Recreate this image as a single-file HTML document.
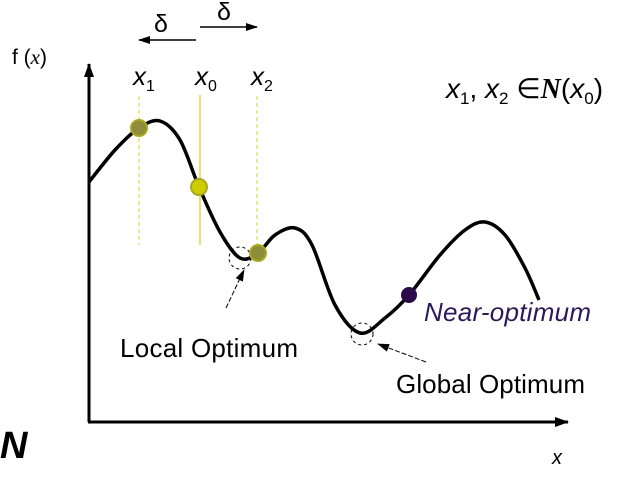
<!DOCTYPE html>
<html><head><meta charset="utf-8"><style>
body{margin:0;background:#fff}
svg{display:block}
text{font-family:"Liberation Sans",sans-serif}
</style></head><body>
<svg width="619" height="477" viewBox="0 0 619 477">
<defs>
<marker id="ah" markerUnits="userSpaceOnUse" markerWidth="14" markerHeight="10" refX="13" refY="5" orient="auto"><path d="M0,0 L14,5 L0,10 z" fill="#000"/></marker>
<marker id="ahs" markerUnits="userSpaceOnUse" markerWidth="12" markerHeight="8" refX="11" refY="4" orient="auto"><path d="M0,0 L12,4 L0,8 z" fill="#000"/></marker>
</defs>
<line x1="89" y1="422" x2="89" y2="64" stroke="#000" stroke-width="3" marker-end="url(#ah)"/>
<line x1="88" y1="422" x2="568" y2="422" stroke="#000" stroke-width="3" marker-end="url(#ah)"/>
<text x="12" y="64" font-size="21" font-family="Liberation Mono">f (<tspan font-family="Liberation Serif" font-style="italic">x</tspan>)</text>
<text x="552" y="464" font-size="20" font-family="Liberation Serif" font-style="italic">x</text>
<text x="0" y="458" font-size="38" font-weight="bold" font-style="italic" font-family="Liberation Serif">N</text>
<text x="154" y="32" font-size="25" font-family="Liberation Serif">δ</text>
<text x="217" y="20" font-size="25" font-family="Liberation Serif">δ</text>
<line x1="196" y1="40" x2="139" y2="40" stroke="#000" stroke-width="1.5" marker-end="url(#ahs)"/>
<line x1="200" y1="27" x2="257" y2="27" stroke="#000" stroke-width="1.5" marker-end="url(#ahs)"/>
<text x="133" y="85" font-size="26" font-style="italic">x<tspan font-size="16" font-style="normal" dy="6">1</tspan></text>
<text x="195" y="85" font-size="26" font-style="italic">x<tspan font-size="16" font-style="normal" dy="6">0</tspan></text>
<text x="251" y="85" font-size="26" font-style="italic">x<tspan font-size="16" font-style="normal" dy="6">2</tspan></text>
<line x1="139" y1="96" x2="139" y2="245" stroke="#e6e070" stroke-width="1.5" stroke-dasharray="4,3"/>
<line x1="200" y1="95" x2="200" y2="245" stroke="#e6e070" stroke-width="2"/>
<line x1="257" y1="96" x2="257" y2="245" stroke="#e6e070" stroke-width="1.5" stroke-dasharray="4,3"/>
<g id="curve"></g>
<circle cx="240" cy="258" r="11" fill="none" stroke="#000" stroke-dasharray="3,3"/>
<circle cx="362" cy="334" r="11" fill="none" stroke="#000" stroke-dasharray="3,3"/>
<circle cx="139" cy="128" r="8" fill="#8c8c3a" stroke="#a8a820" stroke-width="2"/>
<circle cx="199" cy="187" r="8" fill="#cccc00" stroke="#a8a820" stroke-width="2"/>
<circle cx="258" cy="253" r="8" fill="#8c8c3a" stroke="#a8a820" stroke-width="2"/>
<circle cx="409" cy="295" r="8" fill="#2a0a4a"/>
<line x1="226" y1="308" x2="244" y2="270" stroke="#000" stroke-width="1" stroke-dasharray="5,2" marker-end="url(#ahs)"/>
<line x1="426" y1="362" x2="378" y2="344" stroke="#000" stroke-width="1" stroke-dasharray="5,2" marker-end="url(#ahs)"/>
<text x="120" y="357" font-size="26" textLength="178">Local Optimum</text>
<text x="396" y="393" font-size="26" textLength="189">Global Optimum</text>
<text x="424" y="321" font-size="26" font-style="italic" fill="#2a1a5a" textLength="167">Near-optimum</text>
<text x="446" y="98" font-size="28"><tspan font-style="italic">x</tspan><tspan font-size="17" dy="6">1</tspan><tspan dy="-6">, </tspan><tspan font-style="italic">x</tspan><tspan font-size="17" dy="6">2</tspan><tspan dy="-6"> ∈</tspan><tspan font-family="Liberation Serif" font-style="italic" font-weight="bold">N</tspan>(<tspan font-style="italic">x</tspan><tspan font-size="17" dy="6">0</tspan><tspan dy="-6">)</tspan></text>
</svg>
<script>
const curveX=[0,26,50,71,91,110,131,151,169,186,206,223,246,271,296,320,351,376,396,416,436,450];
const curveY=[240,272,294,301,282,235,190,164,169,187,194,177,117,89,104,127,167,192,200,187,154,122];
function xS(v){return 89+v;}
function yS(v){return 422-v;}
const pts=curveX.map((x,i)=>[xS(x),yS(curveY[i])]);
let d='M'+pts[0][0]+','+pts[0][1];
for(let i=0;i<pts.length-1;i++){
  const p0=pts[i-1]||pts[i],p1=pts[i],p2=pts[i+1],p3=pts[i+2]||p2;
  const c1=[p1[0]+(p2[0]-p0[0])/6,p1[1]+(p2[1]-p0[1])/6];
  const c2=[p2[0]-(p3[0]-p1[0])/6,p2[1]-(p3[1]-p1[1])/6];
  d+=` C${c1[0]},${c1[1]} ${c2[0]},${c2[1]} ${p2[0]},${p2[1]}`;
}
const path=document.createElementNS('http://www.w3.org/2000/svg','path');
path.setAttribute('d',d);
path.setAttribute('fill','none');
path.setAttribute('stroke','#000');
path.setAttribute('stroke-width','3.5');


document.getElementById('curve').appendChild(path);
</script>
</body></html>
